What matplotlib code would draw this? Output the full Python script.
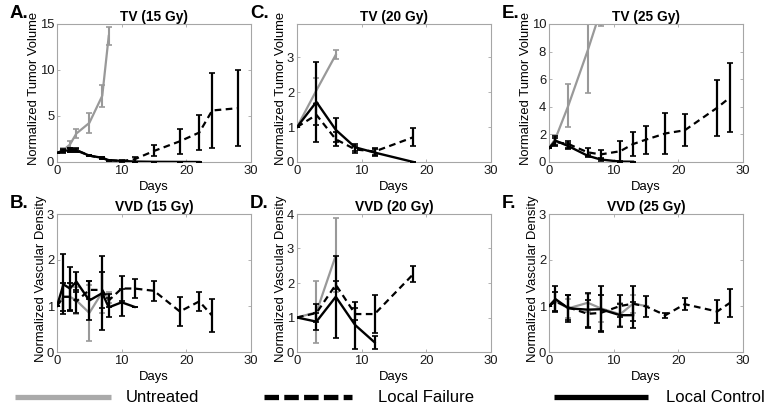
import matplotlib
matplotlib.use("Agg")
import matplotlib.pyplot as plt
from matplotlib.lines import Line2D

plt.rcParams['font.family'] = ['Liberation Sans', 'DejaVu Sans']

# ---------------- data ----------------
# Panel A: TV (15 Gy)
a_unt_x = [0, 1, 2, 3, 5, 7, 8]
a_unt_y = [1.0, 1.3, 1.9, 3.1, 4.25, 7.2, 13.7]
a_unt_e = [0.0, 0.2, 0.4, 0.45, 1.1, 1.2, 1.0]
a_lf_x = [0, 1, 2, 3, 5, 7, 8, 10, 12, 15, 19, 22, 24, 28]
a_lf_y = [1.0, 1.2, 1.3, 1.3, 0.7, 0.4, 0.2, 0.1, 0.3, 1.2, 2.25, 3.2, 5.6, 5.85]
a_lf_e = [0.0, 0.15, 0.2, 0.2, 0.1, 0.1, 0.05, 0.05, 0.25, 0.6, 1.35, 1.95, 4.05, 4.15]
a_lc_x = [0, 1, 2, 3, 5, 7, 8, 10, 12, 15, 19, 22]
a_lc_y = [1.0, 1.2, 1.3, 1.25, 0.7, 0.45, 0.2, 0.12, 0.05, 0.02, 0.01, 0.0]
a_lc_e = [0.0, 0.2, 0.2, 0.2, 0.1, 0.08, 0.05, 0.05, 0.0, 0.0, 0.0, 0.0]

# Panel C: TV (20 Gy)
c_unt_x = [0, 3, 6]
c_unt_y = [1.0, 2.05, 3.07]
c_unt_e = [0.0, 0.35, 0.13]
c_lf_x = [0, 3, 6, 9, 12, 18]
c_lf_y = [1.0, 1.35, 0.65, 0.36, 0.3, 0.71]
c_lf_e = [0.0, 0.3, 0.2, 0.1, 0.1, 0.26]
c_lc_x = [0, 3, 6, 9, 12, 18]
c_lc_y = [1.0, 1.72, 0.92, 0.42, 0.27, 0.0]
c_lc_e = [0.0, 1.15, 0.34, 0.1, 0.1, 0.0]

# Panel E: TV (25 Gy)
e_unt_x = [0, 1, 3, 6, 8]
e_unt_y = [1.0, 1.7, 4.1, 8.1, 11.0]
e_unt_e = [0.0, 0.25, 1.55, 3.1, 1.15]
e_lf_x = [0, 1, 3, 6, 8, 11, 13, 15, 18, 21, 26, 28]
e_lf_y = [1.0, 1.45, 1.3, 0.7, 0.55, 0.78, 1.3, 1.62, 2.07, 2.3, 3.93, 4.68]
e_lf_e = [0.0, 0.3, 0.25, 0.3, 0.35, 0.73, 0.89, 1.02, 1.5, 1.16, 2.02, 2.5]
e_lc_x = [0, 1, 3, 6, 8, 11, 13]
e_lc_y = [1.0, 1.55, 1.15, 0.45, 0.18, 0.03, 0.02]
e_lc_e = [0.0, 0.35, 0.2, 0.08, 0.08, 0.0, 0.0]

# Panel B: VVD (15 Gy)
b_unt_x = [0, 1, 2, 3, 5, 7, 8]
b_unt_y = [1.0, 1.2, 1.2, 1.12, 0.85, 1.3, 1.18]
b_unt_e = [0.0, 0.3, 0.3, 0.3, 0.6, 0.45, 0.12]
b_lf_x = [0, 1, 2, 3, 5, 7, 8, 10, 12, 15, 19, 22, 24]
b_lf_y = [1.0, 1.2, 1.2, 1.1, 1.35, 1.35, 1.12, 1.38, 1.38, 1.33, 0.88, 1.1, 0.79]
b_lf_e = [0.0, 0.3, 0.3, 0.25, 0.2, 0.4, 0.15, 0.28, 0.21, 0.22, 0.31, 0.2, 0.36]
b_lc_x = [0, 1, 2, 3, 5, 7, 8, 10, 12]
b_lc_y = [1.0, 1.47, 1.38, 1.53, 1.12, 1.28, 0.97, 1.08, 0.98]
b_lc_e = [0.0, 0.65, 0.47, 0.22, 0.42, 0.8, 0.2, 0.3, 0.0]

# Panel D: VVD (20 Gy)
d_unt_x = [0, 3, 6]
d_unt_y = [1.0, 1.15, 2.8]
d_unt_e = [0.0, 0.9, 1.07]
d_lf_x = [0, 3, 6, 9, 12, 18]
d_lf_y = [1.0, 1.13, 1.95, 1.1, 1.1, 2.26]
d_lf_e = [0.0, 0.25, 0.12, 0.18, 0.55, 0.22]
d_lc_x = [0, 3, 6, 9, 12]
d_lc_y = [1.0, 0.88, 1.6, 0.78, 0.28]
d_lc_e = [0.0, 0.24, 1.18, 0.68, 0.18]

# Panel F: VVD (25 Gy)
f_unt_x = [0, 1, 3, 6, 8, 11, 13, 15]
f_unt_y = [1.0, 1.1, 0.95, 1.07, 0.95, 0.82, 1.05, 1.0]
f_unt_e = [0.0, 0.2, 0.2, 0.2, 0.3, 0.25, 0.2, 0.0]
f_lf_x = [0, 1, 3, 6, 8, 11, 13, 15, 18, 21, 26, 28]
f_lf_y = [1.0, 1.1, 0.97, 0.83, 0.85, 1.0, 1.05, 0.99, 0.8, 1.04, 0.88, 1.07]
f_lf_e = [0.0, 0.2, 0.28, 0.3, 0.4, 0.23, 0.38, 0.23, 0.05, 0.13, 0.24, 0.3]
f_lc_x = [0, 1, 3, 6, 8, 11, 13]
f_lc_y = [1.0, 1.15, 0.95, 0.92, 0.93, 0.8, 0.8]
f_lc_e = [0.0, 0.28, 0.3, 0.37, 0.5, 0.25, 0.28]

titles = ['TV (15 Gy)', 'TV (20 Gy)', 'TV (25 Gy)',
          'VVD (15 Gy)', 'VVD (20 Gy)', 'VVD (25 Gy)']
letters = ['A.', 'C.', 'E.', 'B.', 'D.', 'F.']
ylabels = ['Normalized Tumor Volume', 'Normalized Vascular Density']
legend_names = ['Untreated', 'Local Failure', 'Local Control']

panels = [
    (a_unt_x, a_unt_y, a_unt_e, a_lf_x, a_lf_y, a_lf_e, a_lc_x, a_lc_y, a_lc_e),
    (c_unt_x, c_unt_y, c_unt_e, c_lf_x, c_lf_y, c_lf_e, c_lc_x, c_lc_y, c_lc_e),
    (e_unt_x, e_unt_y, e_unt_e, e_lf_x, e_lf_y, e_lf_e, e_lc_x, e_lc_y, e_lc_e),
    (b_unt_x, b_unt_y, b_unt_e, b_lf_x, b_lf_y, b_lf_e, b_lc_x, b_lc_y, b_lc_e),
    (d_unt_x, d_unt_y, d_unt_e, d_lf_x, d_lf_y, d_lf_e, d_lc_x, d_lc_y, d_lc_e),
    (f_unt_x, f_unt_y, f_unt_e, f_lf_x, f_lf_y, f_lf_e, f_lc_x, f_lc_y, f_lc_e),
]
ylims = [(0, 15), (0, 3.95), (0, 10), (0, 3), (0, 4), (0, 3)]
yticks = [[0, 5, 10, 15], [0, 1, 2, 3], [0, 2, 4, 6, 8, 10],
          [0, 1, 2, 3], [0, 1, 2, 3, 4], [0, 1, 2, 3]]

# ---------------- figure ----------------
W, H = 768, 411
fig = plt.figure(figsize=(W / 100, H / 100), dpi=100)

GRAY = '#999999'
SPINE = '#a6a6a6'
FS = 9.4
DASH = (0, (3, 2))

lefts = [57, 297, 549]
tops = [24, 214]
aw, ah = 194, 138

for i in range(6):
    r, c = divmod(i, 3)
    l = lefts[c]
    t = tops[r]
    ax = fig.add_axes([l / W, (H - t - ah) / H, aw / W, ah / H])
    ux, uy, ue, fx, fy, fe, cx, cy, ce = panels[i]
    ax.errorbar(ux, uy, yerr=ue, color=GRAY, lw=1.6, elinewidth=1.5,
                capsize=2.5, capthick=1.2, zorder=2)
    ax.errorbar(fx, fy, yerr=fe, color='black', lw=1.6, ls=DASH,
                elinewidth=1.6, capsize=2.5, capthick=1.2, zorder=3)
    ax.errorbar(cx, cy, yerr=ce, color='black', lw=1.7, elinewidth=1.6,
                capsize=2.5, capthick=1.2, zorder=4)
    ax.set_xlim(0, 30)
    ax.set_ylim(*ylims[i])
    ax.set_xticks([0, 10, 20, 30])
    ax.set_yticks(yticks[i])
    ax.tick_params(direction='in', length=2.5, width=0.6, color=SPINE,
                   labelsize=FS, top=True, right=True, pad=2,
                   labelcolor='#1a1a1a')
    for s in ax.spines.values():
        s.set_color(SPINE)
        s.set_linewidth(0.8)
    ax.set_title(titles[i], fontsize=FS + 0.5, fontweight='bold', pad=2.5)
    ax.set_xlabel('Days', fontsize=FS, labelpad=3)
    ax.set_ylabel(ylabels[r], fontsize=FS, labelpad=0, y=0.53)
    fig.text((l - 47) / W, (H - t + 2) / H, letters[i], fontsize=13.5,
             fontweight='bold', ha='left', va='bottom')

# ---------------- legend row ----------------
ly = (H - 397) / H
fig.add_artist(Line2D([15 / W, 111 / W], [ly, ly], color='#aaaaaa', lw=3.8,
                      solid_capstyle='butt'))
fig.add_artist(Line2D([264 / W, 352 / W], [ly, ly], color='black', lw=3.8,
                      linestyle=(0, (2.75, 1.0)), dash_capstyle='butt'))
fig.add_artist(Line2D([554 / W, 648 / W], [ly, ly], color='black', lw=3.8,
                      solid_capstyle='butt'))
for xpx, name in zip([126, 378, 666], legend_names):
    fig.text(xpx / W, ly, name, fontsize=12, ha='left', va='center')

fig.savefig('out.png', dpi=100)
